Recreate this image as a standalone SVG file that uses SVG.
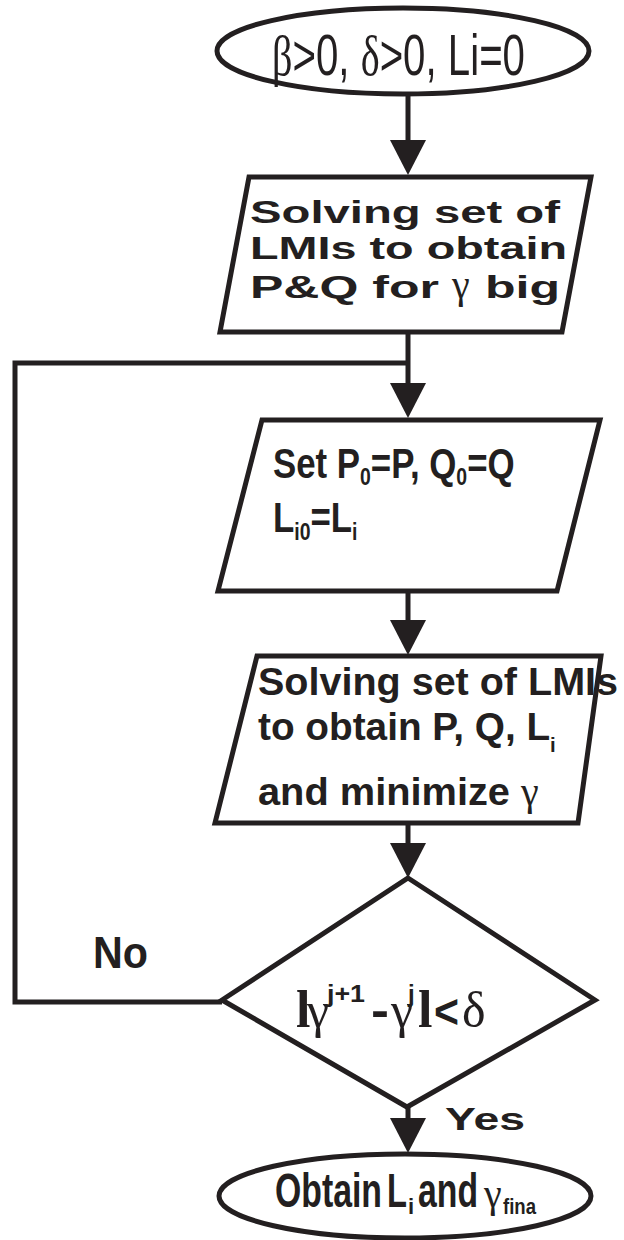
<svg xmlns="http://www.w3.org/2000/svg" width="624" height="1240" viewBox="0 0 624 1240">
  <style>
    .shape { fill: #ffffff; stroke: #231f20; stroke-width: 5; stroke-linejoin: miter; }
    .conn { fill: none; stroke: #231f20; stroke-width: 5; }
    .sans { font-family: "Liberation Sans", Arial, sans-serif; fill: #231f20; }
    .bold { font-weight: bold; }
    .serif { font-family: "Liberation Serif", "Times New Roman", serif; fill: #231f20; }
  </style>
  <defs>
    <marker id="arrow" markerUnits="userSpaceOnUse" markerWidth="36" markerHeight="36" refX="0" refY="18" orient="auto">
      <path d="M0,0 L35,18 L0,36 Z" fill="#231f20"/>
    </marker>
  </defs>

  <!-- start terminal -->
  <g id="start">
    <ellipse class="shape" cx="403" cy="51" rx="186" ry="43"/>
    <text class="sans" x="272" y="75" font-size="58" textLength="253" lengthAdjust="spacingAndGlyphs"><tspan class="serif">β</tspan>&gt;0, <tspan class="serif">δ</tspan>&gt;0, Li=0</text>
  </g>

  <!-- initial LMI solve -->
  <g id="init-lmi">
    <polygon class="shape" points="249,177 591,177 562,332 220,332"/>
    <text class="sans bold" x="250" y="223" font-size="31" textLength="310" lengthAdjust="spacingAndGlyphs">Solving set of</text>
    <text class="sans bold" x="250" y="259" font-size="31" textLength="317" lengthAdjust="spacingAndGlyphs">LMIs to obtain</text>
    <text class="sans bold" x="250" y="298" font-size="31" textLength="189" lengthAdjust="spacingAndGlyphs">P&amp;Q for</text>
    <text class="serif" x="452" y="298" font-size="40">γ</text>
    <text class="sans bold" x="485" y="298" font-size="31" textLength="75" lengthAdjust="spacingAndGlyphs">big</text>
  </g>

  <!-- store previous values -->
  <g id="set-prev">
    <polygon class="shape" points="262,420 600,420 557,591 218,591"/>
    <text class="sans bold" font-size="43" transform="translate(273,478) scale(0.81,1)">Set P<tspan font-size="24" dy="7">0</tspan><tspan dy="-7">=P, Q</tspan><tspan font-size="24" dy="7">0</tspan><tspan dy="-7">=Q</tspan></text>
    <text class="sans bold" font-size="43" transform="translate(273,532) scale(0.81,1)">L<tspan font-size="24" dy="8">i0</tspan><tspan dy="-8">=L</tspan><tspan font-size="24" dy="8">i</tspan></text>
  </g>

  <!-- minimisation step -->
  <g id="minimize">
    <polygon class="shape" points="257,656 601,656 578,823 215,823"/>
    <text class="sans bold" x="258" y="695" font-size="38" textLength="360" lengthAdjust="spacingAndGlyphs">Solving set of LMIs</text>
    <text class="sans bold" font-size="38" transform="translate(258,740) scale(1.02,1)">to obtain P, Q, L<tspan font-size="20" dy="12">i</tspan></text>
    <text class="sans bold" x="258" y="805" font-size="38" textLength="252" lengthAdjust="spacingAndGlyphs">and minimize</text>
    <text class="serif" x="521" y="805" font-size="40">γ</text>
  </g>

  <!-- convergence test -->
  <g id="check">
    <polygon class="shape" points="408,878 595,1000 407,1107 222,1000"/>
    <text class="serif bold" x="296" y="1027" font-size="52">l</text>
    <text class="serif" x="307" y="1027" font-size="50">γ</text>
    <text class="sans bold" x="327" y="1002" font-size="24" textLength="38" lengthAdjust="spacingAndGlyphs">j+1</text>
    <text class="sans bold" x="371" y="1027" font-size="48" textLength="18" lengthAdjust="spacingAndGlyphs">-</text>
    <text class="serif" x="391" y="1027" font-size="50">γ</text>
    <text class="sans bold" x="408" y="1002" font-size="24">j</text>
    <text class="serif bold" x="418" y="1027" font-size="52">l</text>
    <text class="sans bold" x="434" y="1028" font-size="48" textLength="25" lengthAdjust="spacingAndGlyphs">&lt;</text>
    <text class="serif" x="462" y="1027" font-size="50">δ</text>
  </g>

  <!-- end terminal -->
  <g id="end">
    <ellipse class="shape" cx="405" cy="1196" rx="186" ry="42"/>
    <text class="sans bold" x="275" y="1207" font-size="49" textLength="107" lengthAdjust="spacingAndGlyphs">Obtain</text>
    <text class="sans bold" x="387" y="1207" font-size="49" textLength="20" lengthAdjust="spacingAndGlyphs">L</text>
    <text class="sans bold" x="408" y="1214" font-size="22">i</text>
    <text class="sans bold" x="418" y="1207" font-size="49" textLength="60" lengthAdjust="spacingAndGlyphs">and</text>
    <text class="serif" x="484" y="1207" font-size="40">γ</text>
    <text class="sans bold" x="503" y="1214" font-size="22" textLength="33" lengthAdjust="spacingAndGlyphs">fina</text>
  </g>

  <!-- connectors -->
  <g id="connectors">
    <line class="conn" x1="408" y1="93" x2="408" y2="140" marker-end="url(#arrow)"/>
    <line class="conn" x1="408" y1="332" x2="408" y2="383" marker-end="url(#arrow)"/>
    <polyline class="conn" points="222,1002 15,1002 15,363 408,363"/>
    <line class="conn" x1="408" y1="591" x2="408" y2="620" marker-end="url(#arrow)"/>
    <line class="conn" x1="408" y1="823" x2="408" y2="843" marker-end="url(#arrow)"/>
    <line class="conn" x1="408" y1="1107" x2="408" y2="1118" marker-end="url(#arrow)"/>
  </g>

  <!-- branch labels -->
  <g id="labels">
    <text class="sans bold" x="93" y="968" font-size="44" textLength="55" lengthAdjust="spacingAndGlyphs">No</text>
    <text class="sans bold" x="445" y="1130" font-size="32" textLength="80" lengthAdjust="spacingAndGlyphs">Yes</text>
  </g>
</svg>
